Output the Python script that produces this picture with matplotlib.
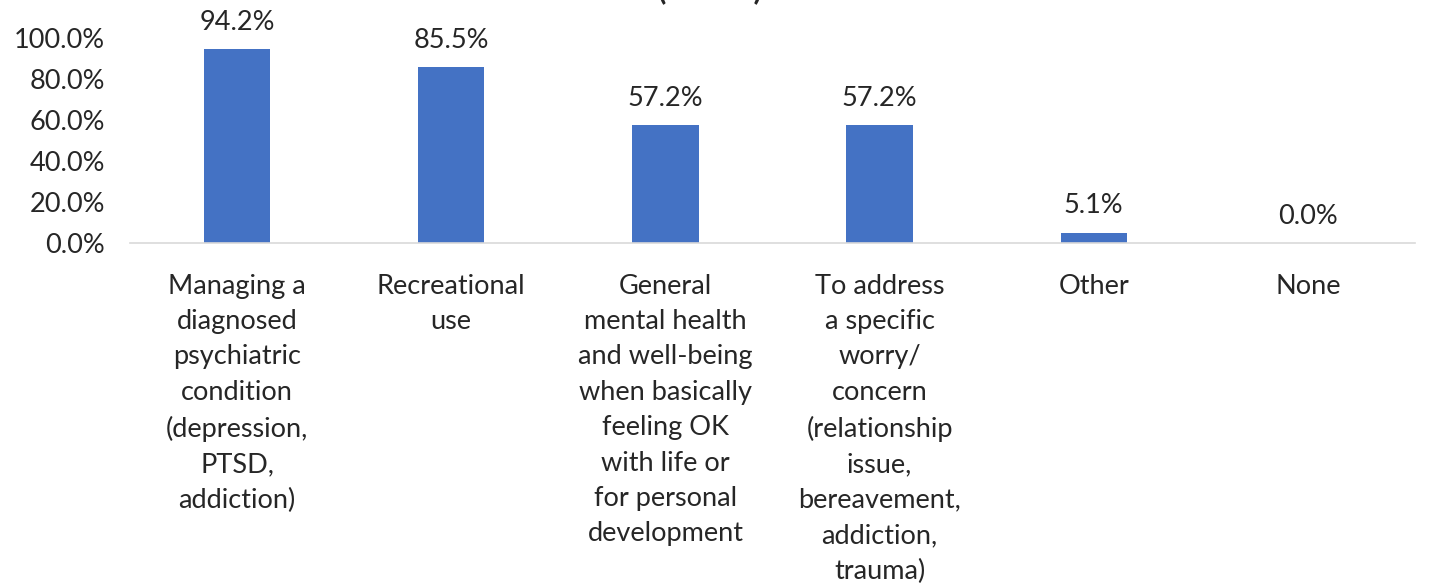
import matplotlib
matplotlib.use("Agg")
import matplotlib.pyplot as plt
from matplotlib.ticker import FuncFormatter

categories = [
    "Managing a\ndiagnosed\npsychiatric\ncondition\n(depression,\nPTSD,\naddiction)",
    "Recreational\nuse",
    "General\nmental health\nand well-being\nwhen basically\nfeeling OK\nwith life or\nfor personal\ndevelopment",
    "To address\na specific\nworry/\nconcern\n(relationship\nissue,\nbereavement,\naddiction,\ntrauma)",
    "Other",
    "None",
]
values = [94.2, 85.5, 57.2, 57.2, 5.1, 0.0]
yticks = [0, 20, 40, 60, 80, 100]
title = "(n=138)"

plt.rcParams['font.family'] = ['Lato', 'DejaVu Sans']
FS = 19.5

fig = plt.figure(figsize=(14.32, 5.83), dpi=100)
ax = fig.add_axes([130/1432, 1-243/583, (1415-130)/1432, (243-37.5)/583])

x = list(range(len(categories)))
ax.bar(x, values, width=0.31, color="#4472C4", zorder=3)
for xi, v in zip(x, values):
    ax.annotate(f"{v:.1f}%", (xi, v), xytext=(0, 14), textcoords="offset points",
                ha="center", va="baseline", fontsize=FS, color="#262626")

ax.set_xlim(-0.5, len(categories) - 0.5)
ax.set_ylim(0, 100)
ax.set_yticks(yticks)
ax.yaxis.set_major_formatter(FuncFormatter(lambda v, p: f"{v:.1f}%"))
ax.set_xticks(x)
ax.set_xticklabels(categories, fontsize=FS, color="#262626", linespacing=1.52, va="top")
ax.tick_params(axis="y", length=0, labelsize=FS, labelcolor="#262626", pad=18)
ax.tick_params(axis="x", length=0, pad=22)
for s in ["top", "right", "left"]:
    ax.spines[s].set_visible(False)
ax.spines["bottom"].set_color("#D9D9D9")
ax.spines["bottom"].set_linewidth(1.2)
ax.spines["bottom"].set_zorder(4)

fig.text(710/1432, 1 + 1/583, title, ha="center", va="baseline",
         fontsize=22, fontweight="bold", color="#262626")

fig.savefig("out.png", dpi=100)
